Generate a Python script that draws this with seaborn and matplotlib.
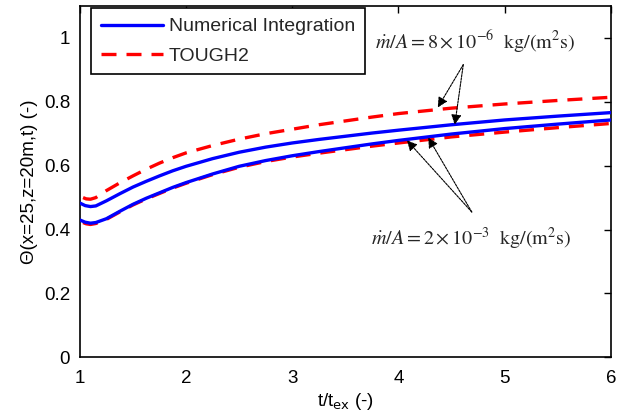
import numpy as np
import pandas as pd
import matplotlib
matplotlib.use("Agg")
import matplotlib.pyplot as plt
import seaborn as sns

# ---- data ----
t_num = [1.0, 1.05, 1.1, 1.15, 1.25, 1.375, 1.5, 1.625, 1.75, 1.875, 2.0,
         2.25, 2.5, 2.75, 3.0, 3.25, 3.5, 3.75, 4.0, 4.5, 5.0, 5.5, 6.0]
t_tough = [1.03, 1.06, 1.1, 1.15, 1.25, 1.375, 1.5, 1.625, 1.75, 1.875, 2.0,
           2.25, 2.5, 2.75, 3.0, 3.25, 3.5, 3.75, 4.0, 4.5, 5.0, 5.5, 6.0]

num_low_flux = [0.483, 0.475, 0.472, 0.474, 0.490, 0.512, 0.533, 0.551, 0.568, 0.584, 0.598,
                0.622, 0.642, 0.658, 0.671, 0.682, 0.692, 0.702, 0.711, 0.728, 0.743, 0.755, 0.766]
tough_low_flux = [0.500, 0.496, 0.495, 0.500, 0.522, 0.546, 0.568, 0.589, 0.608, 0.625, 0.640,
                  0.663, 0.683, 0.700, 0.714, 0.728, 0.740, 0.752, 0.763, 0.780, 0.793, 0.804, 0.814]
num_high_flux = [0.430, 0.423, 0.420, 0.422, 0.434, 0.457, 0.479, 0.498, 0.515, 0.532, 0.547,
                 0.574, 0.598, 0.616, 0.631, 0.644, 0.656, 0.668, 0.679, 0.699, 0.716, 0.730, 0.743]
tough_high_flux = [0.422, 0.418, 0.416, 0.419, 0.432, 0.455, 0.477, 0.496, 0.513, 0.530, 0.545,
                   0.572, 0.595, 0.613, 0.627, 0.639, 0.650, 0.661, 0.671, 0.690, 0.705, 0.719, 0.732]

legend_labels = ["Numerical Integration", "TOUGH2"]
x_ticks = [1, 2, 3, 4, 5, 6]
y_ticks = [0, 0.2, 0.4, 0.6, 0.8, 1.0]
y_tick_labels = ["0", "0.2", "0.4", "0.6", "0.8", "1"]

label_low = r"$\dot{m}/A = 8\times10^{-6}\ \ \mathrm{kg/(m^2s)}$"
label_high = r"$\dot{m}/A = 2\times10^{-3}\ \ \mathrm{kg/(m^2s)}$"

# ---- style ----
sns.set_style("white")
plt.rcParams["font.family"] = ["Liberation Sans", "DejaVu Sans"]
plt.rcParams["mathtext.fontset"] = "stix"

fig = plt.figure(figsize=(6.24, 4.19), dpi=100)
ax = fig.add_axes([0.128, 0.147, 0.851, 0.839])

blue = "#0000ff"
red = "#ff0000"
lw = 2.4
dash = (0, (4.5, 3.0))

sns.lineplot(x=t_tough, y=tough_low_flux, ax=ax, color=red, linewidth=lw,
             linestyle=dash, label=legend_labels[1], zorder=2)
sns.lineplot(x=t_tough, y=tough_high_flux, ax=ax, color=red, linewidth=lw,
             linestyle=dash, zorder=2)
sns.lineplot(x=t_num, y=num_low_flux, ax=ax, color=blue, linewidth=lw,
             label=legend_labels[0], zorder=3)
sns.lineplot(x=t_num, y=num_high_flux, ax=ax, color=blue, linewidth=lw, zorder=3)

ax.set_xlim(1, 6)
ax.set_ylim(0, 1.1)
ax.set_xticks(x_ticks)
ax.set_yticks(y_ticks)
ax.set_yticklabels(y_tick_labels)
ax.tick_params(axis="both", direction="in", length=5, width=1, labelsize=13.5,
               top=True, right=True, colors="black")
ax.tick_params(axis="x", pad=9)
ax.tick_params(axis="y", pad=7)
for s in ax.spines.values():
    s.set_visible(True)
    s.set_color("black")
    s.set_linewidth(1.2)

ax.set_xlabel(r"t/t$_{\mathrm{ex}}$ (-)", fontsize=13.5, labelpad=3,
              math_fontfamily="dejavusans")
ax.set_ylabel("Θ(x=25,z=20m,t) (-)", fontsize=13.5, labelpad=4)
ax.xaxis.label.set_color("black")
ax.yaxis.label.set_color("black")

# legend
h, l = ax.get_legend_handles_labels()
order = [l.index(legend_labels[0]), l.index(legend_labels[1])]
leg = ax.legend([h[i] for i in order], [l[i] for i in order], loc="upper left",
                bbox_to_anchor=(0.021, 0.994), fontsize=14, handlelength=3.2,
                handletextpad=0.3, borderpad=0.5, labelspacing=0.6,
                borderaxespad=0.0,
                frameon=True, fancybox=False, edgecolor="black", framealpha=1)
leg.get_frame().set_linewidth(1.2)

# annotations
arrow_kw = dict(arrowstyle="-|>", color="black", lw=0.8, linestyle=(0, (2, 1)),
                mutation_scale=15, shrinkA=0, shrinkB=0)
ax.text(4.72, 0.985, label_low, fontsize=14.5, ha="center", va="center")
ax.annotate("", xy=(4.37, 0.782), xytext=(4.61, 0.916), arrowprops=arrow_kw)
ax.annotate("", xy=(4.53, 0.728), xytext=(4.61, 0.916), arrowprops=arrow_kw)

ax.text(4.68, 0.37, label_high, fontsize=14.5, ha="center", va="center")
ax.annotate("", xy=(4.08, 0.679), xytext=(4.69, 0.455), arrowprops=arrow_kw)
ax.annotate("", xy=(4.28, 0.688), xytext=(4.69, 0.455), arrowprops=arrow_kw)

fig.savefig("out.png", dpi=100)
